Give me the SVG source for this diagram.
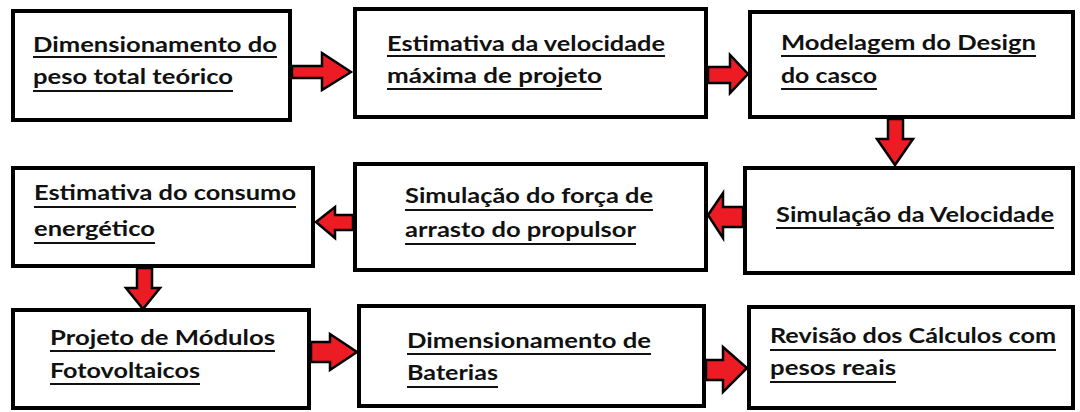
<svg xmlns="http://www.w3.org/2000/svg" width="1080" height="412" viewBox="0 0 1080 412">
<style>
.box{fill:#fff;stroke:#000;stroke-width:4}
.t{font-family:Lato,"Liberation Sans",sans-serif;font-weight:700;font-size:20px;fill:#111}
.ul{stroke:#111;stroke-width:2}
.arr{fill:#ED1C24;stroke:#000;stroke-width:2.5;stroke-linejoin:miter}
</style>
<rect width="1080" height="412" fill="#fff"/>
<g id="n1">
<rect class="box" x="13" y="11" width="277" height="109"/>
<text class="t" x="33" y="52" textLength="244" lengthAdjust="spacingAndGlyphs">Dimensionamento do</text>
<line class="ul" x1="33" y1="57" x2="277" y2="57"/>
<text class="t" x="33" y="84" textLength="200" lengthAdjust="spacingAndGlyphs">peso total teórico</text>
<line class="ul" x1="33" y1="91" x2="233" y2="91"/>
</g>
<g id="n2">
<rect class="box" x="355" y="9" width="351" height="108"/>
<text class="t" x="387" y="51" textLength="278" lengthAdjust="spacingAndGlyphs">Estimativa da velocidade</text>
<line class="ul" x1="387" y1="56" x2="665" y2="56"/>
<text class="t" x="387" y="83" textLength="215" lengthAdjust="spacingAndGlyphs">máxima de projeto</text>
<line class="ul" x1="387" y1="89" x2="602" y2="89"/>
</g>
<g id="n3">
<rect class="box" x="750" y="12" width="323" height="105"/>
<text class="t" x="781" y="50" textLength="255" lengthAdjust="spacingAndGlyphs">Modelagem do Design</text>
<line class="ul" x1="781" y1="56" x2="1036" y2="56"/>
<text class="t" x="781" y="83" textLength="96" lengthAdjust="spacingAndGlyphs">do casco</text>
<line class="ul" x1="781" y1="89" x2="877" y2="89"/>
</g>
<g id="n4">
<rect class="box" x="745" y="168" width="328" height="105"/>
<text class="t" x="776" y="222" textLength="278" lengthAdjust="spacingAndGlyphs">Simulação da Velocidade</text>
<line class="ul" x1="776" y1="228" x2="1054" y2="228"/>
</g>
<g id="n5">
<rect class="box" x="355" y="164" width="351" height="106"/>
<text class="t" x="405" y="203" textLength="248" lengthAdjust="spacingAndGlyphs">Simulação do força de</text>
<line class="ul" x1="405" y1="210" x2="653" y2="210"/>
<text class="t" x="405" y="237" textLength="231" lengthAdjust="spacingAndGlyphs">arrasto do propulsor</text>
<line class="ul" x1="405" y1="244" x2="636" y2="244"/>
</g>
<g id="n6">
<rect class="box" x="13" y="168" width="300" height="98"/>
<text class="t" x="34" y="200" textLength="262" lengthAdjust="spacingAndGlyphs">Estimativa do consumo</text>
<line class="ul" x1="34" y1="207" x2="296" y2="207"/>
<text class="t" x="34" y="236" textLength="121" lengthAdjust="spacingAndGlyphs">energético</text>
<line class="ul" x1="34" y1="243" x2="155" y2="243"/>
</g>
<g id="n7">
<rect class="box" x="13" y="310" width="296" height="98"/>
<text class="t" x="50" y="345" textLength="225" lengthAdjust="spacingAndGlyphs">Projeto de Módulos</text>
<line class="ul" x1="50" y1="351" x2="275" y2="351"/>
<text class="t" x="50" y="378" textLength="150" lengthAdjust="spacingAndGlyphs">Fotovoltaicos</text>
<line class="ul" x1="50" y1="384" x2="200" y2="384"/>
</g>
<g id="n8">
<rect class="box" x="359" y="306" width="345" height="100"/>
<text class="t" x="407" y="348" textLength="244" lengthAdjust="spacingAndGlyphs">Dimensionamento de</text>
<line class="ul" x1="407" y1="354" x2="651" y2="354"/>
<text class="t" x="407" y="380" textLength="91" lengthAdjust="spacingAndGlyphs">Baterias</text>
<line class="ul" x1="407" y1="387" x2="498" y2="387"/>
</g>
<g id="n9">
<rect class="box" x="749" y="307" width="324" height="101"/>
<text class="t" x="770" y="343" textLength="286" lengthAdjust="spacingAndGlyphs">Revisão dos Cálculos com</text>
<line class="ul" x1="770" y1="350" x2="1056" y2="350"/>
<text class="t" x="770" y="375" textLength="126" lengthAdjust="spacingAndGlyphs">pesos reais</text>
<line class="ul" x1="770" y1="382" x2="896" y2="382"/>
</g>
<g id="connectors">
<polygon class="arr" points="292,66 322,66 322,53 351,72 322,90 322,78 292,78"/>
<polygon class="arr" points="708,67 730,67 730,55 748,74 730,93 730,83 708,83"/>
<polygon class="arr" points="888,119 888,139 877,139 895,165 913,139 903,139 903,119"/>
<polygon class="arr" points="743,207 723,207 723,193 708,215 723,238 723,227 743,227"/>
<polygon class="arr" points="353,215 335,215 335,207 316,222 335,238 335,230 353,230"/>
<polygon class="arr" points="137,268 137,288 126,288 143,309 160,288 152,288 152,268"/>
<polygon class="arr" points="311,342 330,342 330,334 357,352 330,370 330,362 311,362"/>
<polygon class="arr" points="706,360 723,360 723,347 747,368 723,392 723,380 706,380"/>
</g>
</svg>
